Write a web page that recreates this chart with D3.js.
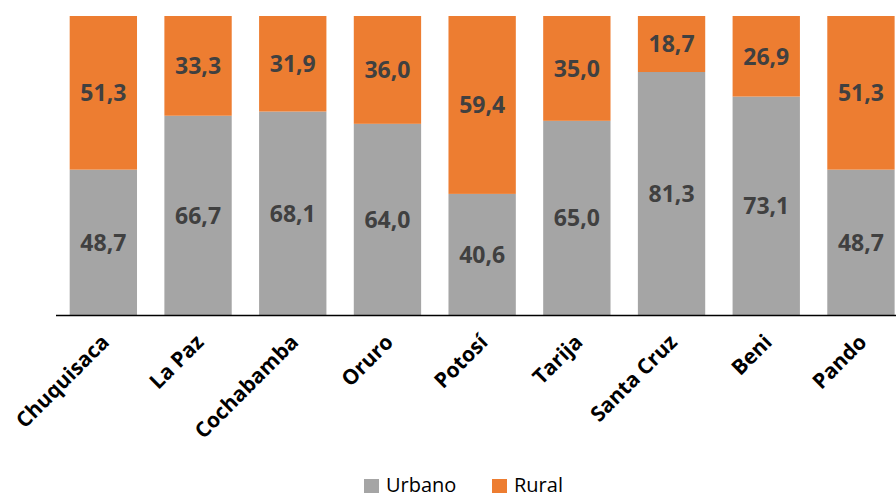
<!DOCTYPE html>
<html><head><meta charset="utf-8">
<script src="https://cdn.jsdelivr.net/npm/d3@7/dist/d3.min.js"></script>
<style>body{margin:0;background:#fff}svg{display:block}</style>
</head><body><svg id="c" width="896" height="498"></svg>
<script>
const categories = ["Chuquisaca","La Paz","Cochabamba","Oruro","Potosí","Tarija","Santa Cruz","Beni","Pando"];
const urbano = [48.7,66.7,68.1,64.0,40.6,65.0,81.3,73.1,48.7];
const rural  = [51.3,33.3,31.9,36.0,59.4,35.0,18.7,26.9,51.3];
const seriesNames = ["Urbano","Rural"];
const colors = ["#A5A5A5","#ED7D31"];

const svg = d3.select("#c");
const x = d3.scaleBand().domain(categories).range([56, 56+9*94.7]).paddingInner(0.289).paddingOuter(0.1445);
const y = d3.scaleLinear().domain([0,100]).range([315.5, 16]);

const data = categories.map((c,i)=>({cat:c, Urbano:urbano[i], Rural:rural[i]}));
const stack = d3.stack().keys(seriesNames)(data);
const fmt = v => v.toFixed(1).replace(".", ",");

const g = svg.append("g");
stack.forEach((s,si)=>{
  g.selectAll(null).data(s).enter().append("rect")
    .attr("x", d=>x(d.data.cat)).attr("width", x.bandwidth())
    .attr("y", d=>y(d[1])).attr("height", d=>y(d[0])-y(d[1]))
    .attr("fill", colors[si]);
  g.selectAll(null).data(s).enter().append("text")
    .attr("x", d=>x(d.data.cat)+x.bandwidth()/2)
    .attr("y", d=>(y(d[0])+y(d[1]))/2)
    .attr("dy","0.36em").attr("text-anchor","middle")
    .attr("font-family","'Open Sans', sans-serif").attr("font-weight","bold")
    .attr("font-size","23px").attr("fill","#404040")
    .text(d=>fmt(d[1]-d[0]));
});

const ax = svg.append("g").attr("transform","translate(0,315.5)")
  .call(d3.axisBottom(x).tickSize(0).tickPadding(0));
ax.select(".domain").attr("d","M56,0H896").attr("stroke","#000").attr("stroke-width",1.5);
ax.selectAll(".tick text")
  .attr("font-family","'Open Sans', sans-serif").attr("font-weight","bold")
  .attr("font-size","21px").attr("fill","#000")
  .attr("text-anchor","end").attr("dy","0")
  .attr("transform","translate(7,28) rotate(-45)");

const lg = svg.append("g").attr("font-family","'Open Sans', sans-serif").attr("font-size","20px");
const items = [{n:"Urbano",x:364},{n:"Rural",x:492}];
items.forEach((it,i)=>{
  lg.append("rect").attr("x",it.x).attr("y",479).attr("width",15).attr("height",14).attr("fill",colors[i]);
  lg.append("text").attr("x",it.x+22).attr("y",492).attr("fill","#000").text(it.n);
});
</script></body></html>
